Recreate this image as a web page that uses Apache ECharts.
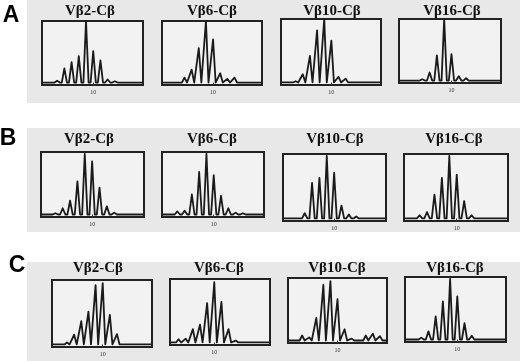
<!DOCTYPE html>
<html>
<head>
<meta charset="utf-8">
<script src="https://cdn.jsdelivr.net/npm/echarts@6/dist/echarts.min.js"></script>
<style>
  html, body { margin: 0; padding: 0; background: #fff; }
  #main { width: 520px; height: 361px; }
</style>
</head>
<body>
<div id="main"></div>
<script>
// CDR3 length positions (peak index) shared by all panels
const lengths = [5, 6, 7, 8, 9, 10, 11, 12, 13, 14, 15, 16];

// relative peak heights, one value per entry of lengths
const rowA_vb2  = [0.03, 0.23, 0.33, 0.43, 1.00, 0.51, 0.36, 0.05, 0.02, 0, 0, 0];
const rowA_vb6  = [0, 0.08, 0.21, 0.56, 1.00, 0.70, 0.15, 0.06, 0.08, 0, 0, 0];
const rowA_vb10 = [0.02, 0.13, 0.42, 0.82, 1.00, 0.66, 0.09, 0.06, 0, 0, 0, 0];
const rowA_vb16 = [0, 0.02, 0.13, 0.41, 1.00, 0.43, 0.07, 0.04, 0, 0, 0, 0];

const rowB_vb2  = [0.02, 0.10, 0.22, 0.53, 0.97, 0.85, 0.43, 0.13, 0.03, 0, 0, 0];
const rowB_vb6  = [0.05, 0.06, 0.32, 0.68, 0.97, 0.63, 0.30, 0.10, 0.03, 0.02, 0, 0];
const rowB_vb10 = [0, 0.08, 0.55, 0.63, 0.97, 0.71, 0.20, 0.06, 0.03, 0, 0, 0];
const rowB_vb16 = [0.05, 0.10, 0.37, 0.63, 0.97, 0.68, 0.27, 0.05, 0, 0, 0, 0];

const rowC_vb2  = [0.03, 0.15, 0.36, 0.51, 0.92, 0.95, 0.46, 0.16, 0, 0, 0, 0];
const rowC_vb6  = [0.05, 0.06, 0.21, 0.28, 0.62, 0.95, 0.64, 0.21, 0.03, 0, 0, 0];
const rowC_vb10 = [0.08, 0.05, 0.36, 0.89, 0.95, 0.66, 0.18, 0.03, 0, 0.08, 0.11, 0.07];
const rowC_vb16 = [0.03, 0.13, 0.37, 0.61, 0.97, 0.69, 0.26, 0.06, 0, 0, 0, 0];

const panelTitles = ['Vβ2-Cβ', 'Vβ6-Cβ', 'Vβ10-Cβ', 'Vβ16-Cβ'];
const rowLetters = ['A', 'B', 'C'];
const tickValues = [10];

const rows = [
  [rowA_vb2, rowA_vb6, rowA_vb10, rowA_vb16],
  [rowB_vb2, rowB_vb6, rowB_vb10, rowB_vb16],
  [rowC_vb2, rowC_vb6, rowC_vb10, rowC_vb16]
];

// layout: box left, top, width, height, axis start, title centre x
const boxes = [
  [[42, 21, 101, 64, 2.9, 90], [162, 21, 100, 64, 2.85, 212], [281, 19, 100, 66, 2.95, 332], [399, 19, 102, 64, 2.8, 452]],
  [[41, 152, 103, 65, 3.05, 89], [162, 152, 102, 65, 2.9, 212], [283, 154, 103, 67, 3.05, 335], [404, 154, 104, 67, 2.9, 454]],
  [[52, 280, 100, 67, 2.9, 98], [170, 279, 100, 66, 3.8, 219], [288, 278, 99, 65, 3.0, 337], [405, 277, 101, 65, 2.75, 455]]
];
const titleY = [11, 139, 268];
const letterPos = [[11, 16], [8, 139], [17, 266]];
const bands = [[27, 0, 493, 103], [27, 128, 493, 104], [27, 262, 493, 99]];
const span = 14;

// turn peak heights into a trace: baseline, sharp peak, baseline
function trace(heights, xMin) {
  const pts = [[xMin, 0]];
  heights.forEach((h, i) => {
    const L = lengths[i];
    if (h <= 0) return;
    pts.push([L - 0.36, 0], [L, h], [L + 0.36, 0]);
  });
  pts.push([xMin + span, 0]);
  return pts;
}

const grids = [], xAxes = [], yAxes = [], series = [], graphics = [];

bands.forEach(b => {
  graphics.push({
    type: 'rect', z: -10, silent: true,
    shape: { x: b[0], y: b[1], width: b[2], height: b[3] },
    style: { fill: '#e8e8e8' }
  });
});

rows.forEach((row, r) => {
  graphics.push({
    type: 'text', x: letterPos[r][0], y: letterPos[r][1],
    style: {
      text: rowLetters[r], align: 'center', verticalAlign: 'middle',
      font: 'bold 23px "Liberation Sans", Arial, sans-serif', fill: '#000'
    }
  });
  row.forEach((heights, c) => {
    const b = boxes[r][c];
    const idx = grids.length;
    grids.push({
      left: b[0], top: b[1], width: b[2], height: b[3],
      show: true, borderColor: '#222', borderWidth: 2, backgroundColor: '#f2f2f2'
    });
    xAxes.push({
      type: 'value', gridIndex: idx, min: b[4], max: b[4] + span,
      axisLine: { show: false },
      splitLine: { show: false },
      axisTick: { show: true, customValues: tickValues, length: 3, lineStyle: { color: '#333', width: 1 } },
      axisLabel: { show: true, customValues: tickValues, fontSize: 6, color: '#333', margin: 4,
                   fontFamily: '"Liberation Serif", serif' }
    });
    yAxes.push({
      type: 'value', gridIndex: idx, min: -0.04, max: 1.0, show: false
    });
    series.push({
      type: 'line', xAxisIndex: idx, yAxisIndex: idx,
      data: trace(heights, b[4]), showSymbol: false, smooth: false,
      lineStyle: { color: '#1a1a1a', width: 1.8, join: 'round' }, silent: true
    });
    graphics.push({
      type: 'text', x: b[5], y: titleY[r],
      style: {
        text: panelTitles[c], align: 'center', verticalAlign: 'middle',
        font: 'bold 15px "Liberation Serif", "Times New Roman", serif', fill: '#111'
      }
    });
  });
});

const chart = echarts.init(document.getElementById('main'), null, { renderer: 'canvas' });
chart.setOption({
  animation: false,
  backgroundColor: '#fff',
  grid: grids,
  xAxis: xAxes,
  yAxis: yAxes,
  series: series,
  graphic: graphics
});
</script>
</body>
</html>
